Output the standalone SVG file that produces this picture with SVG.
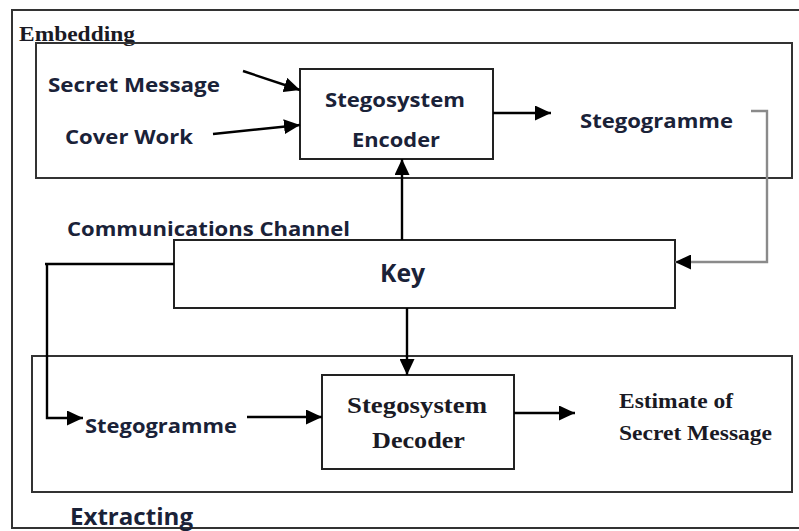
<svg xmlns="http://www.w3.org/2000/svg" width="799" height="531" viewBox="0 0 799 531">
  <defs>
    <marker id="arrow" markerUnits="userSpaceOnUse" markerWidth="17" markerHeight="15" refX="16" refY="7.5" orient="auto">
      <path d="M0,0 L16,7.5 L0,15 Z" fill="#000"/>
    </marker>
    <style>
      .frame { fill: none; stroke: #333; stroke-width: 2; }
      .box { fill: #fff; stroke: #222; stroke-width: 2; }
      .sans { font-family: "Open Sans", "Liberation Sans", sans-serif; font-weight: bold; fill: #1a2238; }
      .serif { font-family: "Liberation Serif", "DejaVu Serif", serif; font-weight: bold; fill: #1a1a24; }
      .wire { fill: none; stroke: #000; stroke-width: 2.4; }
      .grey { fill: none; stroke: #8a8a8a; stroke-width: 2.4; }
    </style>
  </defs>
  <rect width="799" height="531" fill="#fff"/>

  <!-- outer frame (right side runs off the page) -->
  <path class="frame" d="M799,10 H12 V528 H799"/>
  <text class="serif" x="19" y="41" font-size="22" textLength="116" lengthAdjust="spacingAndGlyphs">Embedding</text>

  <!-- embedding stage -->
  <g id="embedding">
    <rect class="frame" x="36" y="43" width="756" height="135"/>
  </g>
  <g id="secret-message">
    <text class="sans" x="48" y="92" font-size="19" textLength="172" lengthAdjust="spacingAndGlyphs">Secret Message</text>
  </g>
  <g id="cover-work">
    <text class="sans" x="65" y="144" font-size="19" textLength="128" lengthAdjust="spacingAndGlyphs">Cover Work</text>
  </g>
  <g id="encoder">
    <rect class="box" x="300" y="69" width="193" height="90"/>
    <text class="sans" x="325" y="107" font-size="19" textLength="140" lengthAdjust="spacingAndGlyphs">Stegosystem</text>
    <text class="sans" x="352" y="147" font-size="19" textLength="88" lengthAdjust="spacingAndGlyphs">Encoder</text>
  </g>
  <g id="stegogramme-out">
    <text class="sans" x="580" y="128" font-size="19" textLength="153" lengthAdjust="spacingAndGlyphs">Stegogramme</text>
  </g>

  <!-- channel -->
  <g id="channel-label">
    <text class="sans" x="67" y="236" font-size="19" textLength="283" lengthAdjust="spacingAndGlyphs">Communications Channel</text>
  </g>
  <g id="key">
    <rect class="box" x="174" y="240" width="501" height="68"/>
    <text class="sans" x="380" y="282" font-size="25" textLength="45" lengthAdjust="spacingAndGlyphs">Key</text>
  </g>

  <!-- extracting stage -->
  <g id="extracting">
    <rect class="frame" x="32" y="356" width="760" height="136"/>
  </g>
  <g id="stegogramme-in">
    <text class="sans" x="85" y="433" font-size="19" textLength="152" lengthAdjust="spacingAndGlyphs">Stegogramme</text>
  </g>
  <g id="decoder">
    <rect class="box" x="322" y="375" width="192" height="94"/>
    <text class="serif" x="347" y="413" font-size="23" textLength="140" lengthAdjust="spacingAndGlyphs">Stegosystem</text>
    <text class="serif" x="372" y="448" font-size="23" textLength="93" lengthAdjust="spacingAndGlyphs">Decoder</text>
  </g>
  <g id="estimate">
    <text class="serif" x="619" y="408" font-size="21" textLength="114" lengthAdjust="spacingAndGlyphs">Estimate of</text>
    <text class="serif" x="619" y="440" font-size="21" textLength="153" lengthAdjust="spacingAndGlyphs">Secret Message</text>
  </g>
  <text class="sans" x="70" y="525" font-size="24" textLength="123" lengthAdjust="spacingAndGlyphs">Extracting</text>

  <!-- connectors -->
  <g id="connectors">
    <line class="wire" x1="243" y1="71" x2="300" y2="90" marker-end="url(#arrow)"/>
    <line class="wire" x1="213" y1="134" x2="300" y2="125" marker-end="url(#arrow)"/>
    <line class="wire" x1="493" y1="113" x2="551" y2="113" marker-end="url(#arrow)"/>
    <line class="wire" x1="402" y1="240" x2="402" y2="159" marker-end="url(#arrow)"/>
    <polyline class="grey" points="751,111 767,111 767,262 675,262" marker-end="url(#arrow)"/>
    <line class="wire" x1="407" y1="308" x2="407" y2="375" marker-end="url(#arrow)"/>
    <polyline class="wire" points="174,264 45,264 47,264 47,418 83,418" marker-end="url(#arrow)"/>
    <line class="wire" x1="247" y1="417" x2="322" y2="417" marker-end="url(#arrow)"/>
    <line class="wire" x1="514" y1="413" x2="575" y2="413" marker-end="url(#arrow)"/>
  </g>
</svg>
